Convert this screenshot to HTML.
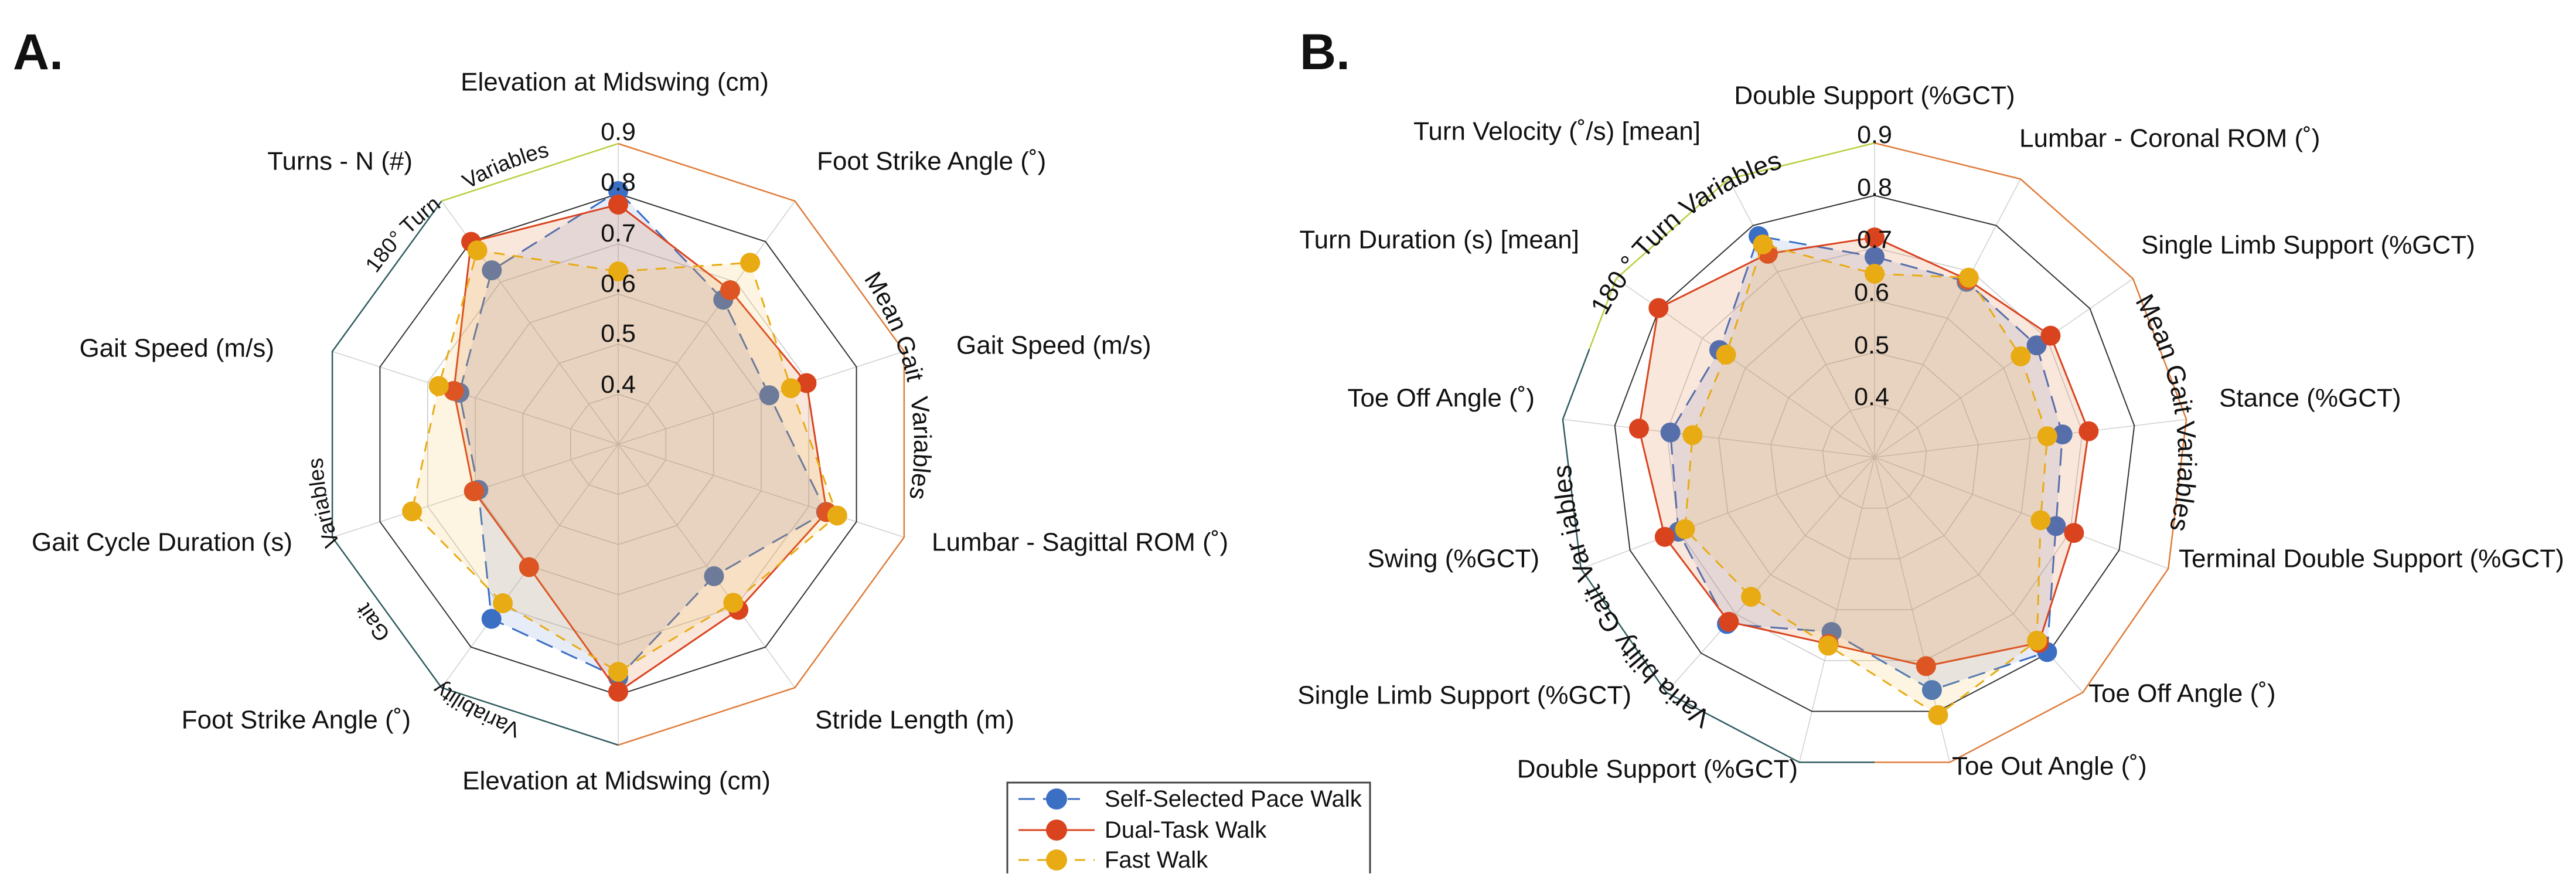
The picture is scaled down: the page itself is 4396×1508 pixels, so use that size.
<!DOCTYPE html>
<html><head><meta charset="utf-8"><style>
html,body{margin:0;padding:0;background:#fff}
svg{display:block}
text{font-family:"Liberation Sans",Arial,sans-serif;fill:#111}
.ax{font-size:44px}
.tk{font-size:43px;fill:#222;text-anchor:middle}
.gl{font-size:37px}
.gb{font-size:45px}
</style></head><body>
<svg id="s" width="4396" height="1508" viewBox="0 0 4396 1508" xmlns="http://www.w3.org/2000/svg">
<defs>
<path id="cA" d="M1055,253 A505,505 0 1 1 1055,1263 A505,505 0 1 1 1055,253"/>
<path id="cB" d="M3199,262 A518,518 0 1 1 3199,1298 A518,518 0 1 1 3199,262"/>
</defs>
<g id="gA"></g>
<g id="gB"></g>

<text x="22" y="118" font-size="86" font-weight="bold">A.</text>
<text x="2218" y="118" font-size="86" font-weight="bold">B.</text>

<g class="tk">
<text x="1055" y="239">0.9</text><text x="1055" y="325">0.8</text><text x="1055" y="412">0.7</text>
<text x="1055" y="498">0.6</text><text x="1055" y="583">0.5</text><text x="1055" y="670">0.4</text>
</g>
<g class="ax" dominant-baseline="central">
<text x="1049" y="140" text-anchor="middle">Elevation at Midswing (cm)</text>
<text x="1394" y="275">Foot Strike Angle (˚)</text>
<text x="1632" y="589">Gait Speed (m/s)</text>
<text x="1590" y="925">Lumbar - Sagittal ROM (˚)</text>
<text x="1391" y="1228">Stride Length (m)</text>
<text x="1052" y="1332" text-anchor="middle">Elevation at Midswing (cm)</text>
<text x="701" y="1228" text-anchor="end">Foot Strike Angle (˚)</text>
<text x="499" y="925" text-anchor="end">Gait Cycle Duration (s)</text>
<text x="468" y="594" text-anchor="end">Gait Speed (m/s)</text>
<text x="704" y="275" text-anchor="end">Turns - N (#)</text>
</g>
<g class="gl" text-anchor="middle">
<text><textPath href="#cA" startOffset="87.3%">180° Turn</textPath></text>
<text><textPath href="#cA" startOffset="93.9%">Variables</textPath></text>
<text font-size="42"><textPath href="#cA" startOffset="18.6%">Mean Gait</textPath></text>
<text font-size="42"><textPath href="#cA" startOffset="25.2%">Variables</textPath></text>
<text><textPath href="#cA" startOffset="57.8%">Variability</textPath></text>
<text><textPath href="#cA" startOffset="65%">Gait</textPath></text>
<text><textPath href="#cA" startOffset="71.9%">Variables</textPath></text>
</g>

<g class="tk">
<text x="3199" y="244">0.9</text><text x="3199" y="334">0.8</text><text x="3199" y="423">0.7</text>
<text x="3194" y="513">0.6</text><text x="3194" y="603">0.5</text><text x="3194" y="691">0.4</text>
</g>
<g class="ax" dominant-baseline="central">
<text x="3199" y="163" text-anchor="middle">Double Support (%GCT)</text>
<text x="3446" y="236">Lumbar - Coronal ROM (˚)</text>
<text x="3654" y="418">Single Limb Support (%GCT)</text>
<text x="3787" y="679">Stance (%GCT)</text>
<text x="3718" y="953">Terminal Double Support (%GCT)</text>
<text x="3564" y="1183">Toe Off Angle (˚)</text>
<text x="3331" y="1307">Toe Out Angle (˚)</text>
<text x="3068" y="1312" text-anchor="end">Double Support (%GCT)</text>
<text x="2784" y="1186" text-anchor="end">Single Limb Support (%GCT)</text>
<text x="2627" y="953" text-anchor="end">Swing (%GCT)</text>
<text x="2619" y="679" text-anchor="end">Toe Off Angle (˚)</text>
<text x="2695" y="409" text-anchor="end">Turn Duration (s) [mean]</text>
<text x="2902" y="224" text-anchor="end">Turn Velocity (˚/s) [mean]</text>
</g>
<g class="gb" text-anchor="middle">
<text><textPath href="#cB" startOffset="88.9%">180 ° Turn Variables</textPath></text>
<text><textPath href="#cB" startOffset="22.6%">Mean Gait  Variables</textPath></text>
<text><textPath href="#cB" startOffset="66.8%">Varia bility Gait Var iables</textPath></text>
</g>

<path d="M1719,1490 L1719,1335 L2338,1335 L2338,1490" fill="none" stroke="#444" stroke-width="3"/>
<line x1="1738" y1="1363" x2="1843" y2="1363" stroke="#3a6fc4" stroke-width="3" stroke-dasharray="28,14"/>
<circle cx="1803" cy="1363" r="18" fill="#3a6fc4"/>
<line x1="1738" y1="1416" x2="1868" y2="1416" stroke="#d9441f" stroke-width="3"/>
<circle cx="1803" cy="1416" r="18" fill="#d9441f"/>
<line x1="1738" y1="1467" x2="1868" y2="1467" stroke="#e8ab14" stroke-width="3" stroke-dasharray="18,14"/>
<circle cx="1803" cy="1467" r="18" fill="#e8ab14"/>
<g font-size="40" dominant-baseline="central">
<text x="1885" y="1363">Self-Selected Pace Walk</text>
<text x="1885" y="1416">Dual-Task Walk</text>
<text x="1885" y="1467">Fast Walk</text>
</g>
</svg>
<script>
const NS="http://www.w3.org/2000/svg";
function el(p,t,a){const e=document.createElementNS(NS,t);for(const k in a)e.setAttribute(k,a[k]);p.appendChild(e);return e;}
function pt(cx,cy,r,d){const a=d*Math.PI/180;return [cx+r*Math.sin(a),cy-r*Math.cos(a)];}
function draw(gid,cx,cy,N,unit,r9,segs,data){
 const g=document.getElementById(gid);
 const step=360/N;
 const R=v=>(v-0.3)*unit;
 const poly=(r)=>{let s=[];for(let i=0;i<N;i++)s.push(pt(cx,cy,r,i*step).join(','));return s.join(' ');};
 [0.4,0.5,0.6,0.7].forEach(v=>el(g,'polygon',{points:poly(R(v)),fill:'none',stroke:'#c8c8c8','stroke-width':1.5}));
 for(let i=0;i<N;i++){const p=pt(cx,cy,r9,i*step);el(g,'line',{x1:cx,y1:cy,x2:p[0],y2:p[1],stroke:'#cfcfcf','stroke-width':1.5});}
 el(g,'polygon',{points:poly(R(0.8)),fill:'none',stroke:'#333','stroke-width':2});
 segs.forEach(([a,b,c])=>{
  let pts=[];
  const edgePt=(ang)=>{const k=Math.floor(ang/step+1e-9),f=ang/step-k;const p1=pt(cx,cy,r9,k*step),p2=pt(cx,cy,r9,(k+1)*step);return [p1[0]+(p2[0]-p1[0])*f,p1[1]+(p2[1]-p1[1])*f];};
  pts.push(edgePt(a*step));
  for(let k=Math.ceil(a+1e-9);k<b;k++)pts.push(pt(cx,cy,r9,k*step));
  pts.push(edgePt(b*step));
  el(g,'polyline',{points:pts.map(p=>p.join(',')).join(' '),fill:'none',stroke:c,'stroke-width':2.5});
 });
 const st=[{c:'#3a6fc4',f:'rgba(70,110,210,0.13)',d:'30,16',m:'#3a6fc4'},{c:'#d9441f',f:'rgba(225,110,50,0.17)',d:'',m:'#d9441f'},{c:'#e8ab14',f:'rgba(240,190,60,0.15)',d:'18,14',m:'#e8ab14'}];
 data.forEach((rs,j)=>{
  const pts=rs.map((r,i)=>pt(cx,cy,r,i*step));
  const s=pts.map(p=>p.join(',')).join(' ');
  const a={points:s,fill:st[j].f,stroke:st[j].c,'stroke-width':3};
  if(st[j].d)a['stroke-dasharray']=st[j].d;
  el(g,'polygon',a);
  pts.forEach(p=>el(g,'circle',{cx:p[0],cy:p[1],r:17,fill:st[j].m}));
 });
}
draw('gA',1055,758,10,855,513,[[0,5,'#e07b39'],[5,9,'#2f5b5f'],[9,10,'#b9cf3c']],[
 [432,305,271,373,278,398,368,251,285,367],
 [409,325,338,374,349,422,259,259,295,427],
 [295,383,310,393,334,388,335,370,322,409]]);
draw('gB',3199,780,13,893,536,[[0,6.5,'#e07b39'],[6.5,10.5,'#2f5b5f'],[10.5,13,'#b9cf3c']],[
 [342,338,336,323,331,444,409,307,380,358,351,322,426],
 [375,342,365,368,364,423,367,328,375,383,405,448,392],
 [313,346,303,297,303,418,453,331,318,346,313,308,410]]);
</script>
</body></html>
